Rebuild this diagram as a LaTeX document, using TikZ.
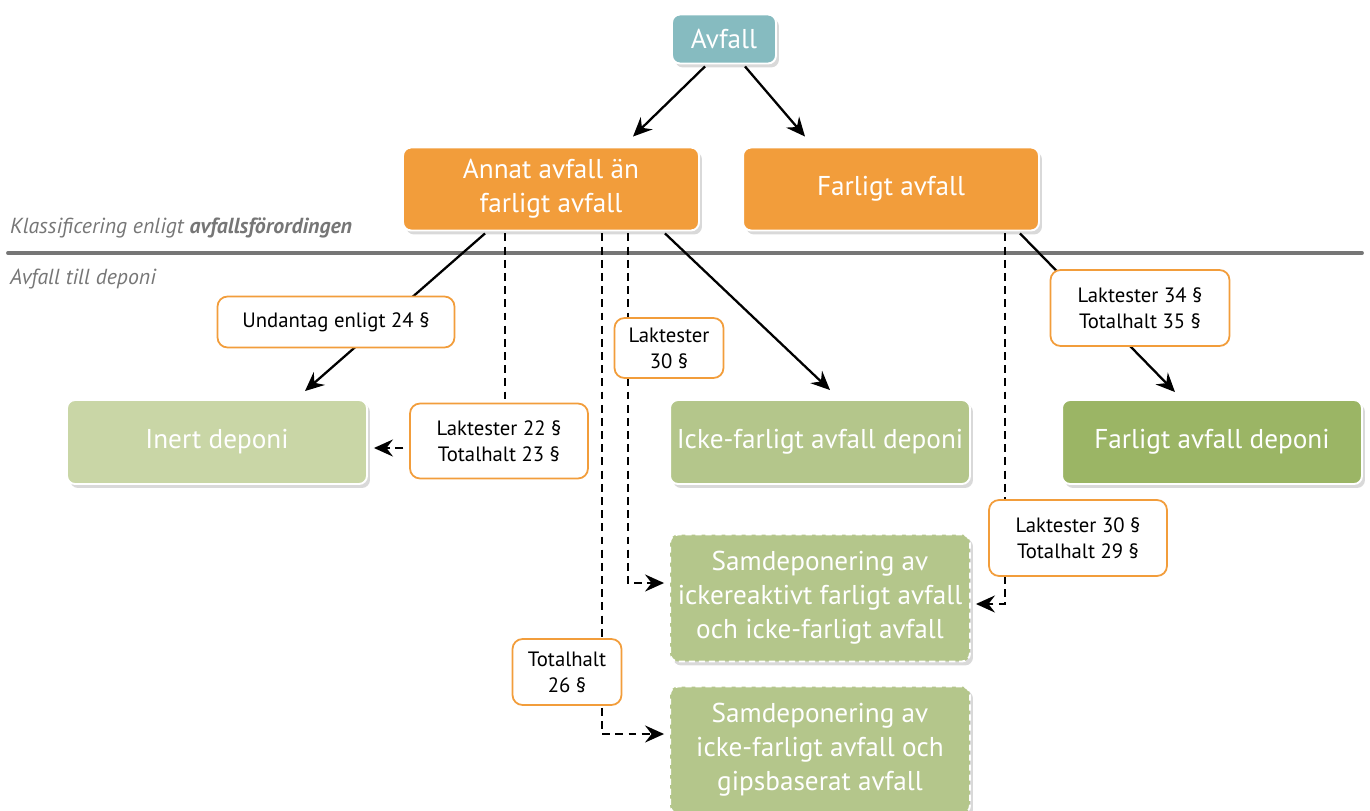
\documentclass[tikz,border=0pt]{standalone}
\usepackage{fontspec}
\setmainfont{PT Sans}
\usepackage{tikz}
\usetikzlibrary{shapes,shadows,arrows.meta,calc}
\definecolor{avstart}{RGB}{134,187,192}
\definecolor{avklass}{RGB}{242,157,59}
\definecolor{avinert}{RGB}{201,214,166}
\definecolor{avicke}{RGB}{180,198,139}
\definecolor{avfarlig}{RGB}{155,181,101}
\definecolor{avgra}{RGB}{118,118,118}
\tikzstyle{avbox}=[rectangle, rounded corners=1.6mm, draw=white, line width=1.1pt, text=white, align=center, font=\fontsize{15.5}{19.3}\selectfont, drop shadow={opacity=0.3, shadow xshift=0.6mm, shadow yshift=-0.8mm}]
\tikzstyle{avstart}=[avbox, fill=avstart, minimum height=0.98cm, minimum width=2.08cm]
\tikzstyle{avklass}=[avbox, fill=avklass, minimum height=1.66cm, minimum width=5.92cm]
\tikzstyle{avdeponi}=[avbox, minimum height=1.68cm, minimum width=6cm]
\tikzstyle{avsamdep}=[avbox, fill=avicke, dash pattern=on 3.5pt off 2.2pt, minimum height=2.54cm, minimum width=6cm]
\tikzstyle{avlag}=[rectangle, rounded corners=2mm, draw=avklass, line width=1pt, fill=white, align=center, font=\fontsize{11.8}{14.8}\selectfont]
\tikzstyle{avpil}=[line width=1.3pt, -{Stealth[length=3.8mm, width=3.4mm, inset=1.3mm]}]
\tikzstyle{avstreck}=[avpil, dash pattern=on 4.5pt off 3pt]
\tikzstyle{avnamn}=[anchor=west, text=avgra, font=\fontsize{12.4}{14}\selectfont\itshape]
\newcommand{\avlag}[5]{
	\node[avlag, minimum width=#3cm, minimum height=#4cm] (#1) at (#2) {#5};}

\begin{document}
\begin{tikzpicture}[x=0.02cm, y=-0.02cm]
	\useasboundingbox (0,0) rectangle (1370,811);
	
	\node[avstart] (avfall) at (724,39) {Avfall};
	\node[avklass] (annat) at (551,189) {Annat avfall än\\farligt avfall};
	\node[avklass] (farligt) at (891,189) {Farligt avfall};
	
	\node[avnamn] (klass) at (4,228) {Klassificering enligt \textbf{avfallsförordingen}};
	\node[avnamn] (deponi) at (4,279) {Avfall till deponi};
	\draw[avgra, line width=2.2pt, line cap=round] (8,253) -- (1362,253);
	
	\node[avdeponi, fill=avinert] (inert) at (217,442) {Inert deponi};
	\node[avdeponi, fill=avicke] (icke) at (820,442) {Icke-farligt avfall deponi};
	\node[avdeponi, fill=avfarlig] (fdeponi) at (1212,442) {Farligt avfall deponi};
	\node[avsamdep] (samdep1) at (820,598) {Samdeponering av\\ickereaktivt farligt avfall\\och icke-farligt avfall};
	\node[avsamdep] (samdep2) at (820,750) {Samdeponering av\\icke-farligt avfall och\\gipsbaserat avfall};
	
	\draw[avpil] ($(avfall.south)+(-19,2)$) -- ($(annat.north)+(82,-10)$);
	\draw[avpil] ($(avfall.south)+(21,2)$) -- ($(farligt.north)+(-86,-10)$);
	\draw[avpil] ($(annat.south)+(-66,2)$) -- ($(inert.north)+(88,-8)$);
	\draw[avstreck] ($(annat.south)+(-46,2)$) |- ($(inert.east)+(6,6)$);
	\draw[avstreck] ($(annat.south)+(51,2)$) |- ($(samdep2.west)+(-5,-16)$);
	\draw[avstreck] ($(annat.south)+(77,2)$) |- ($(samdep1.west)+(-5,-15)$);
	\draw[avpil] ($(annat.south)+(114,2)$) -- ($(icke.north)+(10,-9)$);
	\draw[avstreck] ($(farligt.south)+(114,2)$) |- ($(samdep1.east)+(5,6)$);
	\draw[avpil] ($(farligt.south)+(129,2)$) -- ($(fdeponi.north)+(-37,-7)$);
	
	\avlag{undantag}{336,322}{4.74}{1.02}{Undantag enligt 24 §}
	\avlag{lak22}{499,441}{3.56}{1.5}{Laktester 22 §\\Totalhalt 23 §}
	\avlag{lak30}{669,348}{2.18}{1.2}{Laktester\\30 §}
	\avlag{lak34}{1140,308}{3.58}{1.52}{Laktester 34 §\\Totalhalt 35 §}
	\avlag{lak30b}{1078,538}{3.56}{1.52}{Laktester 30 §\\Totalhalt 29 §}
	\avlag{tot26}{567,672}{2.18}{1.32}{Totalhalt\\26 §}
\end{tikzpicture}
\end{document}
